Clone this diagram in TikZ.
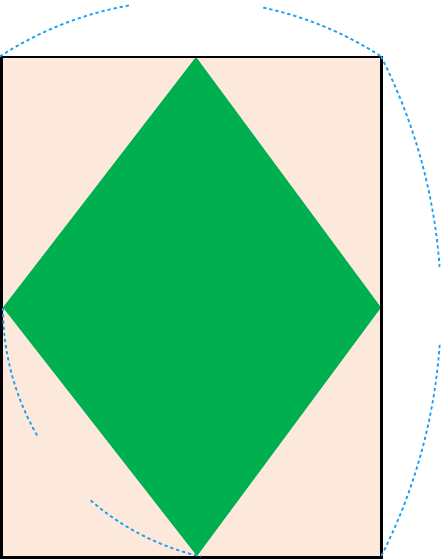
\documentclass[tikz,border=0pt]{standalone}
\definecolor{peach}{HTML}{FCE9DB}
\definecolor{dgreen}{HTML}{00AF50}
\definecolor{arcblue}{HTML}{1AA0F5}
\begin{document}
\begin{tikzpicture}[x=1pt,y=1pt,
  arcline/.style={arcblue,line width=1.8pt,dash pattern=on 3.2pt off 3pt}]
\useasboundingbox (0,0) rectangle (442,560);
\coordinate (rtl) at (1.2,503);
\coordinate (rbr) at (381.3,2.2);
\coordinate (dt) at (196,503);
\coordinate (dl) at (3,252.5);
\coordinate (dr) at (381,252.5);
\coordinate (db) at (197,4);
\fill[peach] (rtl) rectangle (rbr);
\fill[dgreen] (dt) -- (dr) -- (db) -- (dl) -- cycle;
\draw[line width=2.6pt] (rtl) rectangle (rbr);
% top arc
\draw[arcline] (190.5,210) ++(123:350) arc[start angle=123,end angle=100,radius=350];
\draw[arcline] (190.5,210) ++(78:350) arc[start angle=78,end angle=57,radius=350];
% right arc
\draw[arcline] (-110,253.5) ++(27:551) arc[start angle=27,end angle=3.8,radius=551];
\draw[arcline] (-110,253.5) ++(-4:551) arc[start angle=-4,end angle=-27,radius=551];
% left lower arc
\draw[arcline] (258,252) ++(180:255) arc[start angle=180,end angle=210,radius=255];
\draw[arcline] (258,252) ++(229:255) arc[start angle=229,end angle=257,radius=255];
\end{tikzpicture}
\end{document}
